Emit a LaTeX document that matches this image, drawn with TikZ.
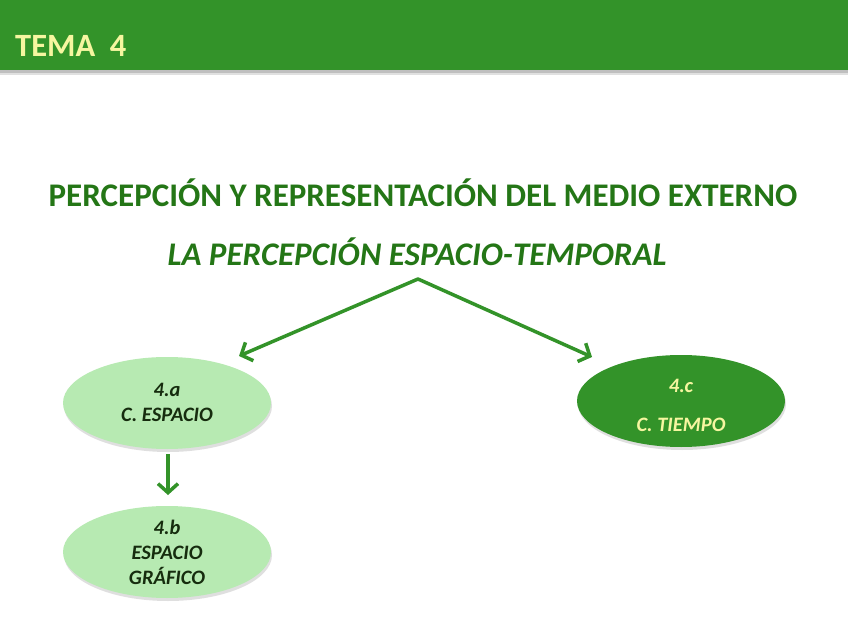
\documentclass[tikz,border=0pt]{standalone}
\usepackage{fontspec}
\setmainfont{Carlito}
\usetikzlibrary{arrows.meta,shadows,shapes.geometric}
\definecolor{barGreen}{RGB}{51,147,41}
\definecolor{titleGreen}{RGB}{36,118,22}
\definecolor{paleYellow}{RGB}{246,246,160}
\definecolor{lightFill}{RGB}{183,234,178}
\definecolor{darkText}{RGB}{22,44,14}
\tikzset{
  bubble/.style={ellipse, minimum width=208pt, minimum height=92pt, inner sep=0pt,
    drop shadow={shadow xshift=1pt, shadow yshift=-3pt, fill=black!35, opacity=0.35}},
  lightbubble/.style={bubble, fill=lightFill, text=darkText},
  darkbubble/.style={bubble, fill=barGreen, text=paleYellow},
  bubbletext/.style={font=\fontsize{20.5}{25}\selectfont\bfseries\itshape, align=center},
  link/.style={draw=barGreen, line width=3.5pt, -{Straight Barb[length=9pt,width=20pt,line width=3.5pt]}}
}
\begin{document}
\begin{tikzpicture}[x=1pt,y=-1pt]
\useasboundingbox (0,0) rectangle (848,636);
\fill[white] (0,0) rectangle (848,636);
% header
\fill[black!25] (0,70) rectangle (848,73);
\fill[black!12] (0,73) rectangle (848,75);
\fill[barGreen] (0,0) rectangle (848,70);
\node[anchor=base west, inner sep=0pt, text=paleYellow, font=\fontsize{32.5}{36}\selectfont\bfseries] (tema) at (15,57) {TEMA\ \ 4};
% titles
\node[text=titleGreen, font=\fontsize{33}{36}\selectfont\bfseries] (title) at (423,193) {PERCEPCIÓN Y REPRESENTACIÓN DEL MEDIO EXTERNO};
\node[text=titleGreen, font=\fontsize{33}{36}\selectfont\bfseries\itshape] (subtitle) at (417,252) {LA PERCEPCIÓN ESPACIO-TEMPORAL};
% ellipses
\node[lightbubble] (a) at (167,403) {};
\node[darkbubble] (c) at (681,401) {};
\node[lightbubble] (b) at (167,552) {};
\node[bubbletext, text=darkText] (atext) at (167,402) {4.a\\C. ESPACIO};
\node[bubbletext, text=paleYellow, font=\fontsize{20.5}{39}\selectfont\bfseries\itshape] (ctext) at (681,405) {4.c\\C. TIEMPO};
\node[bubbletext, text=darkText] (btext) at (167,552) {4.b\\ESPACIO\\GRÁFICO};
% connectors
\coordinate (apex) at (418,279);
\coordinate (endA) at (239,356);
\coordinate (endC) at (592,357);
\coordinate (startB) at (168,454);
\coordinate (endB) at (168,495);
\draw[link, line cap=round] (apex) -- (endA);
\draw[link, line cap=round] (apex) -- (endC);
\draw[link] (startB) -- (endB);
\end{tikzpicture}
\end{document}
